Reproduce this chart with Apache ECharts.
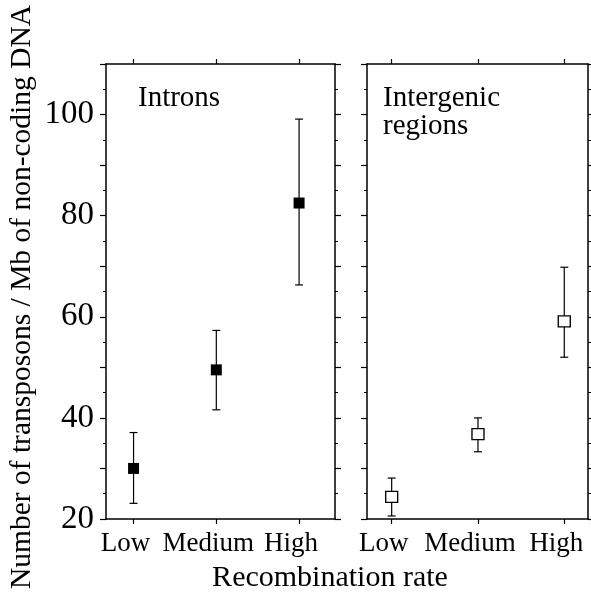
<!DOCTYPE html>
<html>
<head>
<meta charset="utf-8">
<script src="https://cdn.jsdelivr.net/npm/echarts@6/dist/echarts.min.js"></script>
<style>
  * { margin: 0; padding: 0; }
  body { background: #fff; }
  #chart { width: 591px; height: 595px; }
</style>
</head>
<body>
<div id="chart"></div>
<script>
  // 数据
  const categories = ['Low', 'Medium', 'High'];
  const catPos = [1, 2, 3];
  const intronMean = [30.0, 49.5, 82.5];
  const intronLow = [23.1, 41.6, 66.3];
  const intronHigh = [37.1, 57.3, 99.1];
  const interMean = [24.4, 36.8, 59.1];
  const interLow = [20.6, 33.3, 52.0];
  const interHigh = [28.1, 40.0, 69.8];
  const yTicks = [20, 40, 60, 80, 100];

  const font = '"Liberation Serif", "DejaVu Serif", serif';
  const ink = '#000';

  function errData(low, high) {
    return catPos.map((x, i) => [x, low[i], high[i]]);
  }
  function ptData(mean) {
    return catPos.map((x, i) => [x, mean[i]]);
  }

  // 误差线
  function renderErr(params, api) {
    const x = api.value(0);
    const lo = api.coord([x, api.value(1)]);
    const hi = api.coord([x, api.value(2)]);
    const cap = 4;
    const style = { stroke: ink, lineWidth: 1.2 };
    return {
      type: 'group',
      children: [
        { type: 'line', shape: { x1: lo[0], y1: lo[1], x2: hi[0], y2: hi[1] }, style },
        { type: 'line', shape: { x1: hi[0] - cap, y1: hi[1], x2: hi[0] + cap, y2: hi[1] }, style },
        { type: 'line', shape: { x1: lo[0] - cap, y1: lo[1], x2: lo[0] + cap, y2: lo[1] }, style },
      ],
    };
  }

  function xAxes(gridIndex, min, max) {
    const base = {
      type: 'value',
      gridIndex,
      min,
      max,
      splitLine: { show: false },
      axisLine: { show: true, onZero: false, lineStyle: { color: ink, width: 1.5 } },
      axisTick: { show: true, inside: false, length: 5, customValues: catPos, lineStyle: { color: ink, width: 1.2 } },
    };
    return [
      Object.assign({}, base, {
        position: 'bottom',
        axisLabel: {
          show: true,
          customValues: catPos,
          formatter: (v) => categories[Math.round(v) - 1] || '',
          fontFamily: font,
          fontSize: 27,
          color: ink,
          margin: 11,
          padding: [0, 16, 0, 0],
        },
      }),
      Object.assign({}, base, { position: 'top', axisLabel: { show: false } }),
    ];
  }

  function yAxes(gridIndex, showLabels) {
    const base = {
      type: 'value',
      gridIndex,
      min: 20,
      max: 110,
      interval: 10,
      splitLine: { show: false },
      axisLine: { show: true, onZero: false, lineStyle: { color: ink, width: 1.5 } },
      axisTick: { show: true, inside: false, length: 6, lineStyle: { color: ink, width: 1.2 } },
      minorTick: { show: true, splitNumber: 2, length: 3, lineStyle: { color: ink, width: 1 } },
    };
    const left = Object.assign({}, base, {
      position: 'left',
      axisLabel: {
        show: showLabels,
        formatter: (v) => (yTicks.indexOf(v) >= 0 ? String(v) : ''),
        fontFamily: font,
        fontSize: 33,
        color: ink,
        margin: 12,
      },
    });
    const right = Object.assign({}, base, { position: 'right', axisLabel: { show: false } });
    return [left, right];
  }

  const option = {
    backgroundColor: '#fff',
    animation: false,
    grid: [
      { left: 106, top: 64, width: 229, height: 455, containLabel: false, outerBoundsMode: 'none' },
      { left: 367, top: 64, width: 221, height: 455, containLabel: false, outerBoundsMode: 'none' },
    ],
    xAxis: [...xAxes(0, 0.667, 3.434), ...xAxes(1, 0.714, 3.275)],
    yAxis: [...yAxes(0, true), ...yAxes(1, false)],
    graphic: [
      {
        type: 'text', x: 22, y: 297, rotation: Math.PI / 2,
        style: {
          text: 'Number of transposons / Mb of non-coding DNA',
          fontFamily: font, fontSize: 29.5, fill: ink, align: 'center', verticalAlign: 'middle',
        },
      },
      {
        type: 'text', left: 138, top: 84,
        style: { text: 'Introns', fontFamily: font, fontSize: 29, fill: ink },
      },
      {
        type: 'text', left: 383, top: 84,
        style: { text: 'Intergenic\nregions', fontFamily: font, fontSize: 29, lineHeight: 28, fill: ink },
      },
      {
        type: 'text', x: 330, y: 578,
        style: { text: 'Recombination rate', fontFamily: font, fontSize: 30, fill: ink, align: 'center', verticalAlign: 'middle' },
      },
    ],
    series: [
      {
        name: 'intronErr', type: 'custom', xAxisIndex: 0, yAxisIndex: 0,
        renderItem: renderErr, data: errData(intronLow, intronHigh), z: 2,
      },
      {
        name: 'Introns', type: 'scatter', xAxisIndex: 0, yAxisIndex: 0,
        symbol: 'rect', symbolSize: 11, data: ptData(intronMean),
        itemStyle: { color: ink, opacity: 1 }, z: 3,
      },
      {
        name: 'interErr', type: 'custom', xAxisIndex: 2, yAxisIndex: 2,
        renderItem: renderErr, data: errData(interLow, interHigh), z: 2,
      },
      {
        name: 'Intergenic regions', type: 'scatter', xAxisIndex: 2, yAxisIndex: 2,
        symbol: 'rect', symbolSize: [12, 11], data: ptData(interMean),
        itemStyle: { color: '#fff', borderColor: ink, borderWidth: 1.3, opacity: 1 }, z: 3,
      },
    ],
  };

  const chart = echarts.init(document.getElementById('chart'));
  chart.setOption(option);
</script>
</body>
</html>
